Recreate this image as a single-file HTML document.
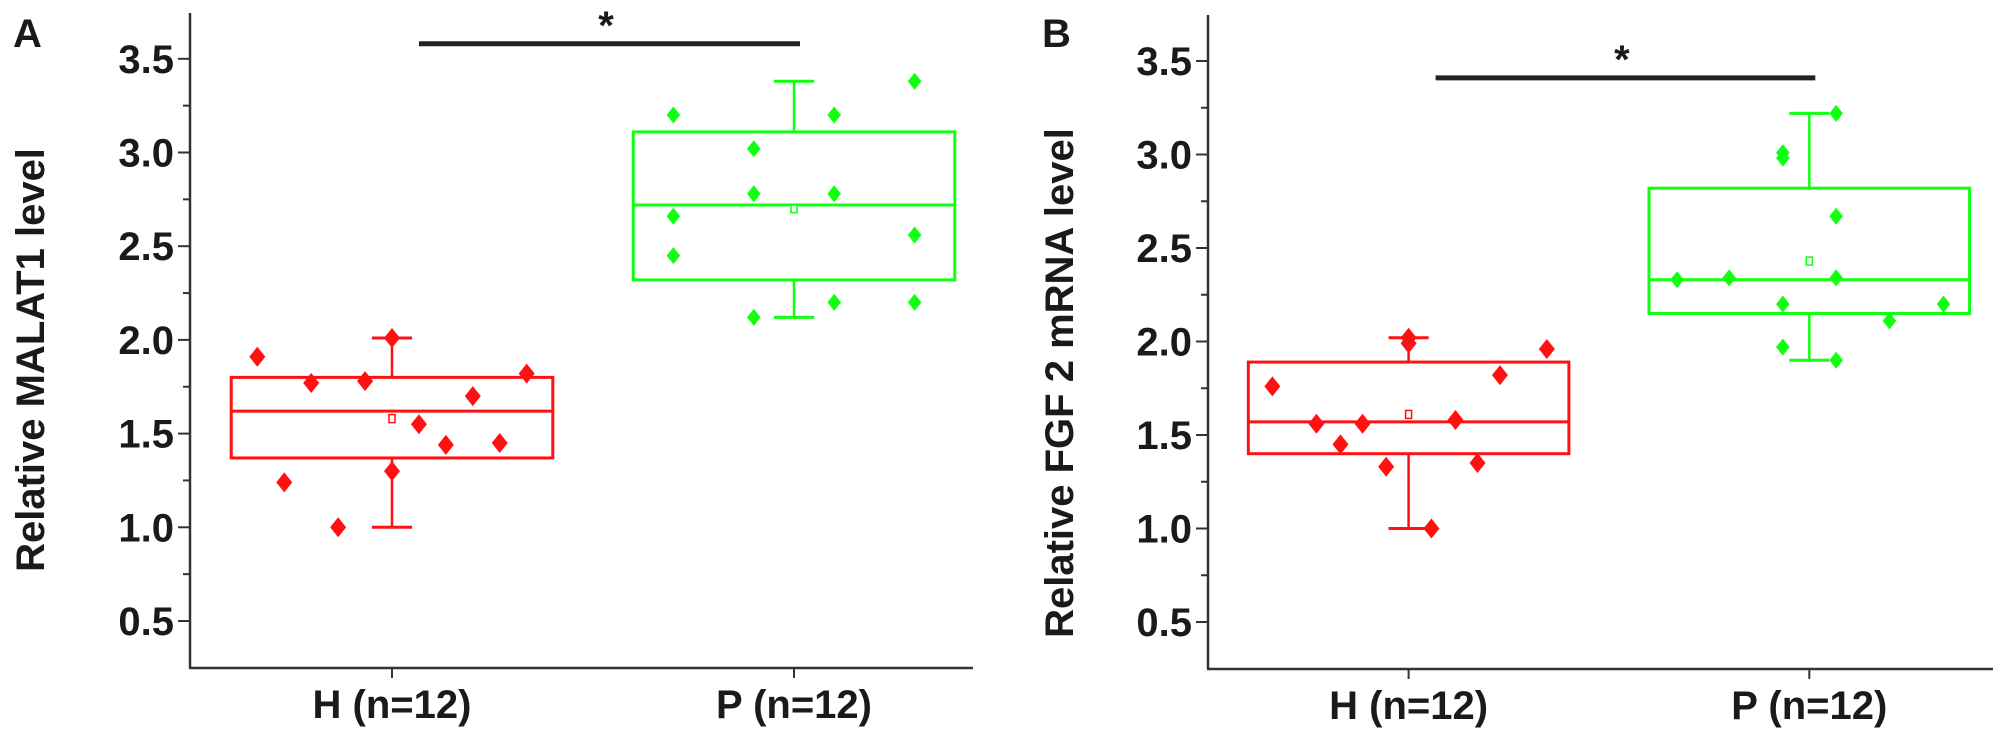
<!DOCTYPE html>
<html><head><meta charset="utf-8"><style>
html,body{margin:0;padding:0;background:#fff;}
svg{display:block;}
text{font-family:"Liberation Sans",Arial,sans-serif;font-weight:bold;fill:#1a1a1a;}
</style></head><body>
<svg id="chart" width="2008" height="742" viewBox="0 0 2008 742" xmlns="http://www.w3.org/2000/svg"></svg>
<script>
// ---------- Data ----------
const categories = ["H (n=12)", "P (n=12)"];
const yTicks = [0.5, 1.0, 1.5, 2.0, 2.5, 3.0, 3.5];
const yTickLabels = ["0.5", "1.0", "1.5", "2.0", "2.5", "3.0", "3.5"];
// Panel A (MALAT1)
const aHOffsets = [-0.335, -0.268, -0.201, -0.134, -0.067, 0, 0, 0.067, 0.134, 0.201, 0.268, 0.335];
const aHValues  = [1.91, 1.24, 1.77, 1.00, 1.78, 2.01, 1.30, 1.55, 1.44, 1.70, 1.45, 1.82];
const aPOffsets = [-0.3, -0.3, -0.3, -0.1, -0.1, -0.1, 0.1, 0.1, 0.1, 0.3, 0.3, 0.3];
const aPValues  = [3.20, 2.66, 2.45, 3.02, 2.78, 2.12, 3.20, 2.78, 2.20, 3.38, 2.56, 2.20];
const aHBox = [1.00, 1.37, 1.62, 1.80, 2.01]; // min, q1, median, q3, max
const aPBox = [2.12, 2.32, 2.72, 3.11, 3.38];
const aMeans = [1.58, 2.70];
const aSig = 3.58;
// Panel B (FGF2)
const bHOffsets = [-0.34, -0.23, -0.17, -0.115, -0.056, 0, 0, 0.057, 0.117, 0.172, 0.228, 0.345];
const bHValues  = [1.76, 1.56, 1.45, 1.56, 1.33, 2.02, 1.99, 1.00, 1.58, 1.35, 1.82, 1.96];
const bPOffsets = [-0.33, -0.2, -0.066, -0.066, -0.066, -0.066, 0.067, 0.067, 0.067, 0.067, 0.2, 0.335];
const bPValues  = [2.33, 2.34, 3.01, 2.98, 2.20, 1.97, 3.22, 2.67, 2.34, 1.90, 2.11, 2.20];
const bHBox = [1.00, 1.40, 1.57, 1.89, 2.02];
const bPBox = [1.90, 2.15, 2.33, 2.82, 3.22];
const bMeans = [1.61, 2.43];
const bSig = 3.41;

const NS = "http://www.w3.org/2000/svg";
const svg = document.getElementById("chart");
function el(tag, attrs, parent) {
  const e = document.createElementNS(NS, tag);
  for (const k in attrs) e.setAttribute(k, attrs[k]);
  (parent || svg).appendChild(e);
  return e;
}
const RED = "#ff1111", GREEN = "#11ff11";

function panel(cfg) {
  const g = el("g", {});
  
  
  const y = v => cfg.y05 - (v - 0.5) * cfg.ppu;
  const x = c => cfg.xH + (c - 1) * cfg.ppx; // c: 1=H, 2=P

  // axes
  const ax = el("line", {x1: cfg.axX, y1: cfg.axTop, x2: cfg.axX, y2: cfg.axBot, stroke: "#333", "stroke-width": 2.5}, g);
  
  
  const xa = el("line", {x1: cfg.axX - 1, y1: cfg.axBot, x2: cfg.axRight, y2: cfg.axBot, stroke: "#333", "stroke-width": 2.5}, g);
  
  

  // y ticks
  for (let i = 0; i < yTicks.length; i++) {
    const v = yTicks[i];
    const t = el("line", {x1: cfg.axX - 12, y1: y(v), x2: cfg.axX, y2: y(v), stroke: "#333", "stroke-width": 2}, g);
    
    
    const lb = el("text", {x: cfg.axX - 16, y: y(v) + 14, "text-anchor": "end", "font-size": 40}, g);
    lb.textContent = yTickLabels[i];
    
    
    const mv = v + 0.25;
    if (mv < 3.75) {
      const m = el("line", {x1: cfg.axX - 7, y1: y(mv), x2: cfg.axX, y2: y(mv), stroke: "#333", "stroke-width": 2}, g);
      
      
    }
  }
  // x ticks + labels
  for (let c = 0; c < categories.length; c++) {
    const xt = el("line", {x1: x(c + 1), y1: cfg.axBot, x2: x(c + 1), y2: cfg.axBot + 10, stroke: "#333", "stroke-width": 2}, g);
    
    
    const lb = el("text", {x: x(c + 1), y: cfg.axBot + 50, "text-anchor": "middle", "font-size": 40}, g);
    lb.textContent = categories[c];
    
    
  }
  // y title
  const yt = el("text", {x: 0, y: 0, "text-anchor": "middle", "font-size": 40,
    transform: `translate(${cfg.titleX},${cfg.titleY}) rotate(-90)`}, g);
  yt.textContent = cfg.title;
  
  
  // panel letter
  const pl = el("text", {x: cfg.letterX, y: 47, "font-size": 40}, g);
  pl.textContent = cfg.letter;
  
  

  // boxes
  const groups = [
    {box: cfg.hBox, off: cfg.hOff, vals: cfg.hVals, col: RED, mean: cfg.means[0], c: 1, n: 'h'},
    {box: cfg.pBox, off: cfg.pOff, vals: cfg.pVals, col: GREEN, mean: cfg.means[1], c: 2, n: 'p'}
  ];
  groups.forEach(G => {
    const cx = x(G.c), hw = 0.4 * cfg.ppx, cap = 0.05 * cfg.ppx;
    const bx = G.box;
    const w1 = el("line", {x1: cx, y1: y(bx[0]), x2: cx, y2: y(bx[1]), stroke: G.col, "stroke-width": 2.5}, g);
    
    
    const w2 = el("line", {x1: cx, y1: y(bx[3]), x2: cx, y2: y(bx[4]), stroke: G.col, "stroke-width": 2.5}, g);
    
    
    [bx[0], bx[4]].forEach(v => {
      const cp = el("line", {x1: cx - cap * 0.1, y1: y(v), x2: cx + cap, y2: y(v), stroke: G.col, "stroke-width": 3}, g);
      cp.setAttribute('x1', cx - cap);
      
      
    });
    const r = el("rect", {x: cx - hw, y: y(bx[3]), width: 2 * hw, height: y(bx[1]) - y(bx[3]), fill: "none", stroke: G.col, "stroke-width": 3}, g);
    
    
    const md = el("line", {x1: cx - hw, y1: y(bx[2]), x2: cx + hw, y2: y(bx[2]), stroke: G.col, "stroke-width": 3}, g);
    
    
    const mn = el("rect", {x: cx - 3, y: y(G.mean) - 4, width: 6, height: 8, fill: "#fff", stroke: G.col, "stroke-width": 1.5}, g);
    
    
    for (let i = 0; i < G.vals.length; i++) {
      const px = x(G.c + G.off[i]), py = y(G.vals[i]);
      const sz = G.n === 'h' ? 1 : 0.85;
      const d = el("polygon", {points: `${px},${py - 10 * sz} ${px + 8 * sz},${py} ${px},${py + 10 * sz} ${px - 8 * sz},${py}`, fill: G.col}, g);
      
      
    }
  });
  // significance
  const sb = el("line", {x1: x(1) + 27, y1: y(cfg.sig), x2: x(2) + 6, y2: y(cfg.sig), stroke: "#222", "stroke-width": 5}, g);
  
  
  const st = el("text", {x: (x(1) + x(2)) / 2 + 13, y: y(cfg.sig) - 5, "text-anchor": "middle", "font-size": 40}, g);
  st.textContent = "*";
  
  
}

panel({name: 'panel-a', letter: 'A', letterX: 13, title: 'Relative MALAT1 level', titleX: 44, titleY: 360,
  axX: 190, axTop: 13, axBot: 668, axRight: 973, y05: 621, ppu: 187.4, xH: 392, ppx: 402,
  hBox: aHBox, pBox: aPBox, hOff: aHOffsets, hVals: aHValues, pOff: aPOffsets, pVals: aPValues, means: aMeans, sig: aSig});
panel({name: 'panel-b', letter: 'B', letterX: 1042, title: 'Relative FGF 2 mRNA level', titleX: 1073, titleY: 383,
  axX: 1208, axTop: 15, axBot: 669, axRight: 1993, y05: 622, ppu: 187, xH: 1408.6, ppx: 400.7,
  hBox: bHBox, pBox: bPBox, hOff: bHOffsets, hVals: bHValues, pOff: bPOffsets, pVals: bPValues, means: bMeans, sig: bSig});
</script>
</body></html>
